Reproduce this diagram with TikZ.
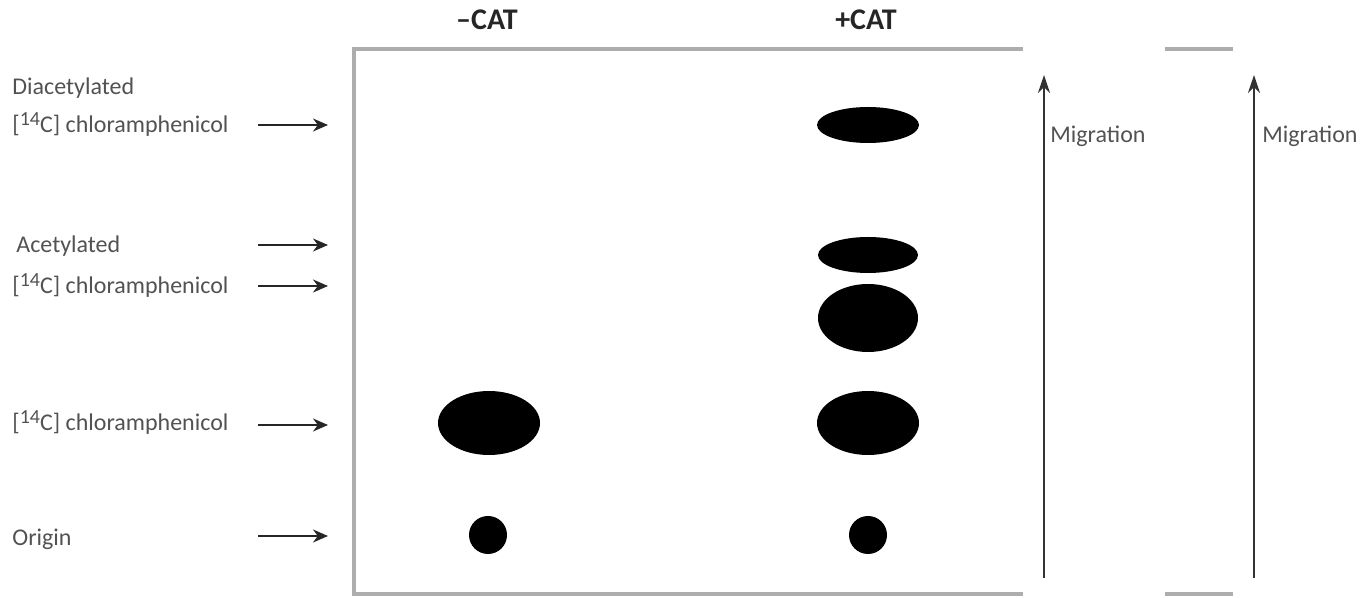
\documentclass[tikz,border=0pt]{standalone}
\usepackage{fontspec}
\setmainfont{Carlito}
\usetikzlibrary{arrows.meta,shapes.geometric,positioning}

\newcommand{\isotope}{[\raisebox{0.32em}{\fontsize{10}{10}\selectfont 14}C]}

\begin{document}
\begin{tikzpicture}[x=0.5pt,y=-0.5pt,
    lbl/.style={anchor=base west, inner sep=0pt, font=\fontsize{12}{14}\selectfont, text=black!68},
    lane/.style={inner sep=0pt, font=\bfseries\fontsize{15}{17}\selectfont, text=black!85},
    spot/.style={ellipse, fill=black, inner sep=0pt},
    dot/.style={circle, fill=black, inner sep=0pt, minimum size=19pt},
    plate/.style={line width=2pt, draw=black!32},
    arr/.style={-{Stealth[length=7.5pt,width=6.5pt]}, line width=1pt, black!85},
    migr/.style={-{Stealth[length=9pt,width=6pt]}, line width=0.8pt, black!80}
]
\useasboundingbox (0,0) rectangle (1362,598);

% plate outline
\draw[plate] (1023,49) -- (354,49) -- (354,594) -- (1023,594);
\draw[plate] (1165,49) -- (1233,49);
\draw[plate] (1165,594) -- (1233,594);

% lanes
\node[lane] (minus) at (487,20) {–CAT};
\node[lane] (plus) at (866,20) {+CAT};

% spots
\node[spot, minimum width=51pt, minimum height=32pt] (m-cm) at (489,423) {};
\node[dot] (m-or) at (488,535) {};
\node[spot, minimum width=51pt, minimum height=18pt] (p-di) at (868,125) {};
\node[spot, minimum width=50pt, minimum height=18pt] (p-ac1) at (868,255) {};
\node[spot, minimum width=50pt, minimum height=34pt] (p-ac2) at (868,318) {};
\node[spot, minimum width=51pt, minimum height=32pt] (p-cm) at (868,423) {};
\node[dot] (p-or) at (868,535) {};

% labels
\node[lbl] (l-di1) at (12,95) {Diacetylated};
\node[lbl] (l-di2) at (12,133) {\isotope{} chloramphenicol};
\node[lbl] (l-ac1) at (16,253) {Acetylated};
\node[lbl] (l-ac2) at (12,294) {\isotope{} chloramphenicol};
\node[lbl] (l-cm) at (12,431) {\isotope{} chloramphenicol};
\node[lbl] (l-or) at (12,546) {Origin};

% label arrows
\foreach \y/\n in {125/di,245/ac1,286/ac2,425/cm,536/or}{
    \coordinate (s-\n) at (258,\y);
    \coordinate (e-\n) at (328,\y);
    \draw[arr] (s-\n) -- (e-\n);
}

% migration
\coordinate (mg1-b) at (1044,578);
\coordinate (mg1-t) at (1044,75);
\draw[migr] (mg1-b) -- (mg1-t);
\node[lbl] (mg1-txt) at (1050,143) {Migration};
\coordinate (mg2-b) at (1254,578);
\coordinate (mg2-t) at (1254,75);
\draw[migr] (mg2-b) -- (mg2-t);
\node[lbl] (mg2-txt) at (1262,143) {Migration};
\end{tikzpicture}
\end{document}
